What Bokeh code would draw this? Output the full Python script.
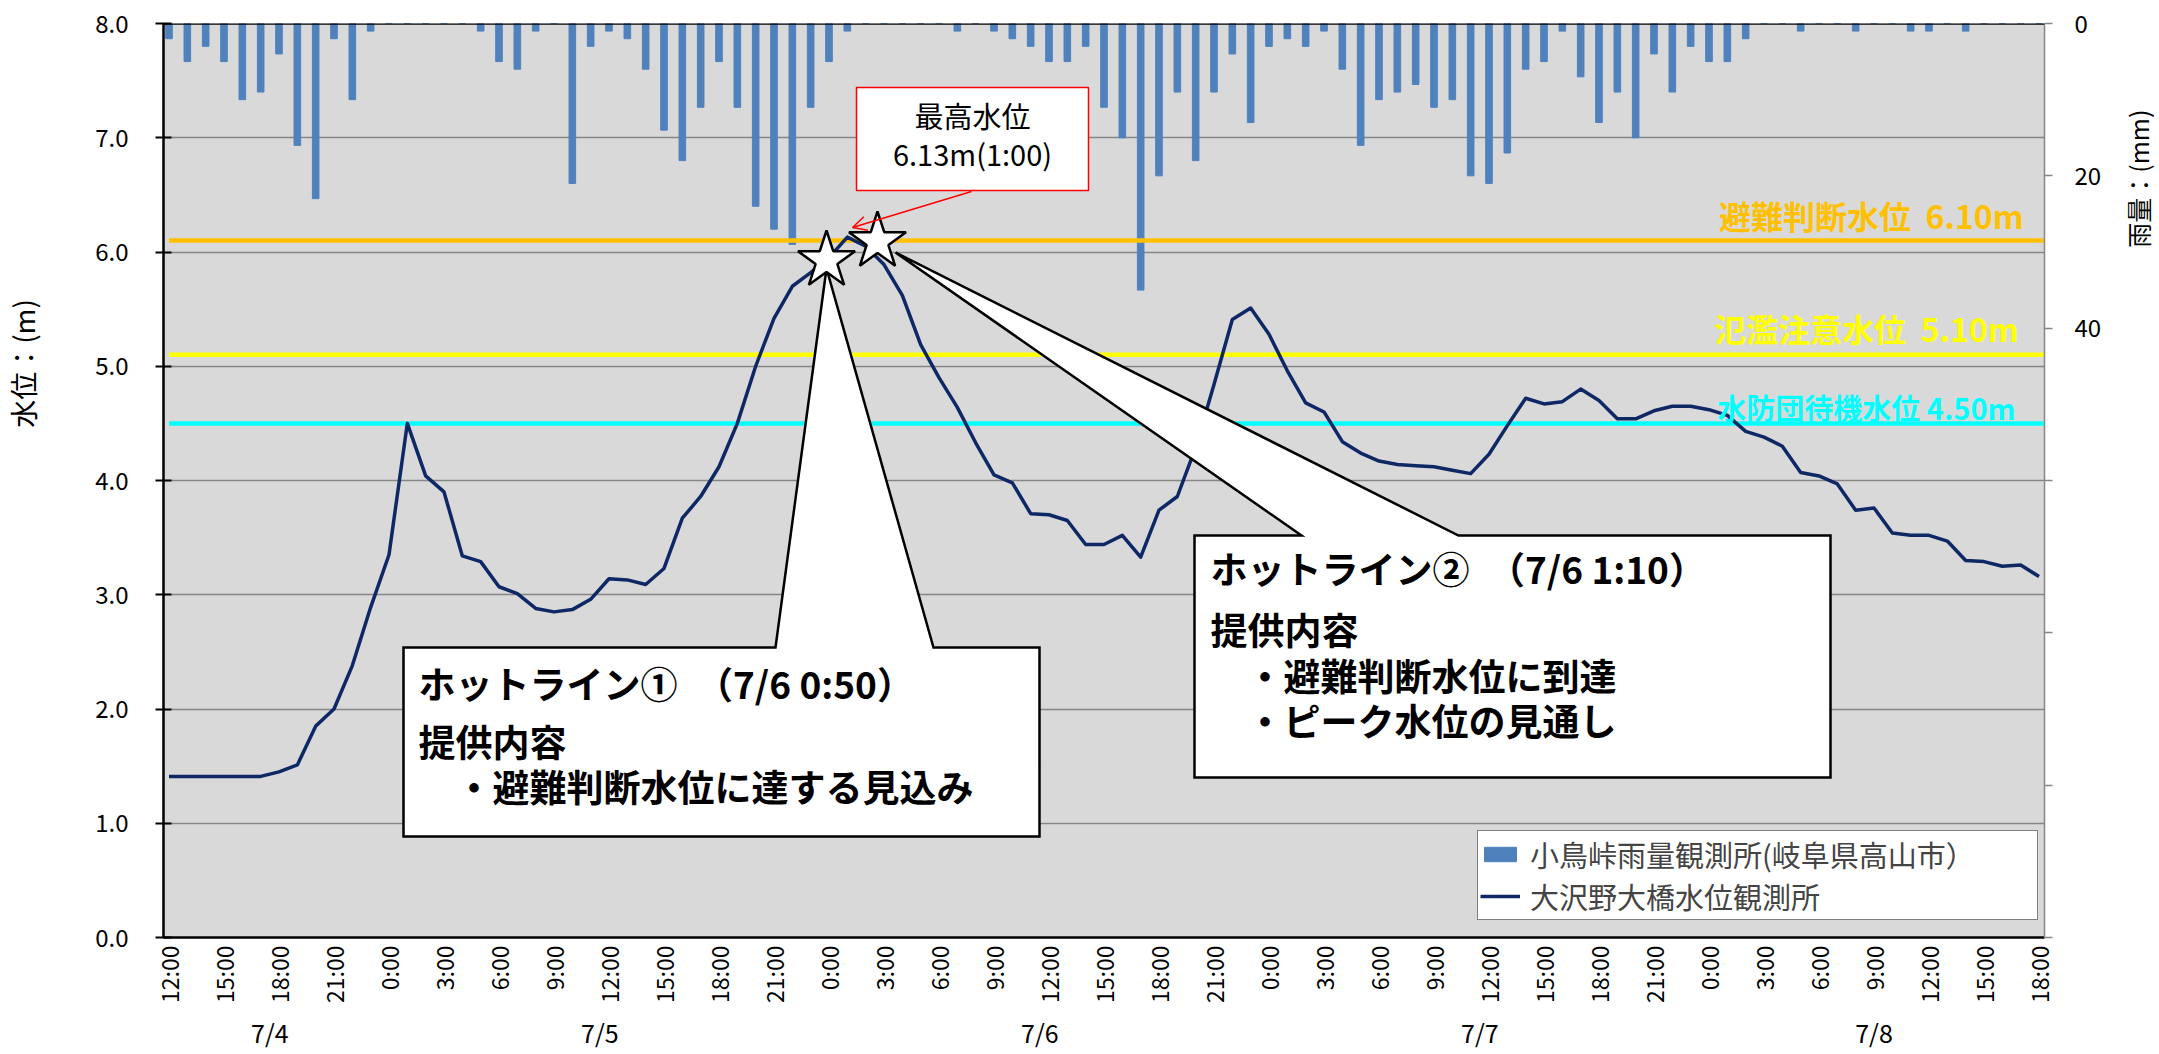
from math import pi
from bokeh.plotting import figure
from bokeh.layouts import row
from bokeh.models import (Range1d, LinearAxis, FixedTicker, PrintfTickFormatter, Span,
                          Label, Legend, LegendItem, Arrow, OpenHead)
from bokeh.embed import file_html
from bokeh.resources import INLINE

# ---------------- data ----------------
hours = list(range(103))  # hourly, 7/4 12:00 -> 7/8 18:00

time_tick_hours = [0, 3, 6, 9, 12, 15, 18, 21, 24, 27, 30, 33, 36, 39, 42, 45, 48, 51,
                   54, 57, 60, 63, 66, 69, 72, 75, 78, 81, 84, 87, 90, 93, 96, 99, 102]
time_tick_labels = ["12:00", "15:00", "18:00", "21:00", "0:00", "3:00", "6:00", "9:00",
                    "12:00", "15:00", "18:00", "21:00", "0:00", "3:00", "6:00", "9:00",
                    "12:00", "15:00", "18:00", "21:00", "0:00", "3:00", "6:00", "9:00",
                    "12:00", "15:00", "18:00", "21:00", "0:00", "3:00", "6:00", "9:00",
                    "12:00", "15:00", "18:00"]

date_labels = ["7/4", "7/5", "7/6", "7/7", "7/8"]
date_group_first = [0, 12, 36, 60, 84]
date_group_last = [11, 35, 59, 83, 102]

rain_mm = [2, 5, 3, 5, 10, 9, 4, 16, 23, 2, 10, 1,
           0, 0, 0, 0, 0,
           1, 5, 6, 1, 0, 21, 3, 1, 2, 6, 14, 18, 11, 5, 11, 24, 27, 29, 11, 5, 1,
           0, 0, 0, 0, 0,
           1, 0, 1, 2, 3, 5, 5, 3, 11, 15, 35, 20, 9, 18, 9, 4, 13, 3, 2, 3, 1, 6, 16,
           10, 9, 8, 11, 10, 20, 21, 17, 6, 5, 1, 7, 13, 9, 15, 4, 9, 3, 5, 5, 2,
           0, 0, 1, 0, 0, 1, 0, 0, 1, 1, 0, 1, 0, 0, 0, 0]

water_level_m = [1.41, 1.41, 1.41, 1.41, 1.41, 1.41, 1.45, 1.51, 1.85, 2.00, 2.38, 2.89,
                 3.35, 4.50, 4.04, 3.90, 3.34, 3.29, 3.07, 3.01, 2.88, 2.85, 2.87, 2.96,
                 3.14, 3.13, 3.09, 3.23, 3.67, 3.86, 4.12, 4.50, 5.00, 5.42, 5.70, 5.82,
                 5.95, 6.13, 6.05, 5.89, 5.62, 5.19, 4.90, 4.64, 4.33, 4.05, 3.98, 3.71,
                 3.70, 3.65, 3.44, 3.44, 3.52, 3.33, 3.74, 3.86, 4.29, 4.84, 5.41, 5.51,
                 5.28, 4.96, 4.68, 4.60, 4.34, 4.24, 4.17, 4.14, 4.13, 4.12, 4.09, 4.06,
                 4.23, 4.48, 4.72, 4.67, 4.69, 4.80, 4.70, 4.54, 4.54, 4.61, 4.65, 4.65,
                 4.62, 4.57, 4.43, 4.38, 4.30, 4.07, 4.04, 3.97, 3.74, 3.76, 3.54, 3.52,
                 3.52, 3.47, 3.30, 3.29, 3.25, 3.26, 3.16]

threshold_levels = [6.10, 5.10, 4.50]
threshold_texts = ["避難判断水位\u00a0\u00a06.10m", "氾濫注意水位\u00a0\u00a05.10m", "水防団待機水位 4.50m"]
threshold_colors = ["#FFC000", "#FFFF00", "#00FFFF"]

rain_name = "小鳥峠雨量観測所(岐阜県高山市）"
level_name = "大沢野大橋水位観測所"
left_title = "水位：(m)"
right_title = "雨量：(mm)"

# ---------------- layout helpers ----------------
FONT = "Noto Sans CJK JP"
X_START, X_END = -0.3, 102.3
FL, FT, FW, FH = 163.0, 23.0, 1881.0, 914.0   # frame position on the page (px)
CANVAS_W, CANVAS_H = 2159, 1054
LEFT_W = 60                                   # strip holding the level axis title
SIDE_W = 50                                   # strip holding the rain axis title


def px2x(px):
    return X_START + (px - FL) / FW * (X_END - X_START)


def py2y(py):
    return 8.0 - (py - FT) / FH * 8.0


p = figure(frame_width=int(FW), frame_height=int(FH),
           min_border_left=int(FL) - LEFT_W,
           min_border_right=CANVAS_W - SIDE_W - int(FL) - int(FW),
           min_border_top=int(FT), min_border_bottom=CANVAS_H - int(FT) - int(FH),
           x_range=Range1d(X_START, X_END), y_range=Range1d(0, 8),
           output_backend="svg", toolbar_location=None)
p.extra_y_ranges = {"rain": Range1d(120, 0)}
p.background_fill_color = "#D9D9D9"
p.border_fill_color = "white"
p.outline_line_color = None

# grid
p.xgrid.visible = False
p.ygrid.ticker = FixedTicker(ticks=[1, 2, 3, 4, 5, 6, 7])
p.ygrid.grid_line_color = "#868686"
p.ygrid.grid_line_width = 1.5

# left axis
ya = p.yaxis[0]
ya.ticker = FixedTicker(ticks=[0, 1, 2, 3, 4, 5, 6, 7, 8])
ya.formatter = PrintfTickFormatter(format="%.1f")
ya.axis_line_color = "black"
ya.axis_line_width = 2.5
ya.major_tick_in = 8
ya.major_tick_out = 8
ya.major_tick_line_width = 2
ya.minor_tick_line_color = None
ya.major_label_standoff = 27
ya.major_label_text_font = FONT
ya.major_label_text_font_size = "24px"
ya.major_label_text_color = "black"

# bottom time axis
xa = p.xaxis[0]
xa.ticker = FixedTicker(ticks=time_tick_hours)
xa.major_label_overrides = {h: t for h, t in zip(time_tick_hours, time_tick_labels)}
xa.major_label_orientation = pi / 2
xa.axis_line_color = "black"
xa.axis_line_width = 2.5
xa.major_tick_line_color = None
xa.minor_tick_line_color = None
xa.major_label_standoff = 2
xa.major_label_text_font = FONT
xa.major_label_text_font_size = "23px"
xa.major_label_text_color = "black"

# date axis
date_centers = [(a + b) / 2 for a, b in zip(date_group_first, date_group_last)]
da = LinearAxis(ticker=FixedTicker(ticks=date_centers),
                major_label_overrides={c: d for c, d in zip(date_centers, date_labels)},
                axis_line_color=None, major_tick_line_color=None, minor_tick_line_color=None,
                major_label_standoff=2, major_label_text_font=FONT,
                major_label_text_font_size="25px", major_label_text_color="black")
p.add_layout(da, "below")

# right axis (rain, reversed)
ra = LinearAxis(y_range_name="rain", ticker=FixedTicker(ticks=[0, 20, 40, 60, 80, 100, 120]),
                major_label_overrides={60: "", 80: "", 100: "", 120: ""},
                axis_line_color="#868686", axis_line_width=1.5,
                major_tick_line_color="#868686", major_tick_line_width=1.5,
                major_tick_in=0, major_tick_out=8, minor_tick_line_color=None,
                major_label_standoff=22, major_label_text_font=FONT,
                major_label_text_font_size="24px", major_label_text_color="black")
p.add_layout(ra, "right")

# top border
p.add_layout(Span(location=8, dimension="width", line_color="black", line_width=2.5))

# ---------------- data marks ----------------
bars = p.vbar(x=hours, top=0, bottom=rain_mm, width=0.36, y_range_name="rain",
              fill_color="#4F81BD", line_color="#4F81BD")

for lvl, col in zip(threshold_levels, threshold_colors):
    p.line([hours[0], hours[-1] + 0.25], [lvl, lvl], line_color=col, line_width=4.5)

wl = p.line(hours, water_level_m, line_color="#0E2765", line_width=3.5, line_join="round")

# threshold labels
thr_label_px = [(2023, 214), (2018, 327), (2015, 406)]
thr_font = ["32px", "32px", "29px"]
for (lx, ly), txt, col, fs in zip(thr_label_px, threshold_texts, threshold_colors, thr_font):
    p.add_layout(Label(x=px2x(lx), y=py2y(ly), text=txt, text_align="right",
                       text_baseline="middle", text_color=col, text_font=FONT,
                       text_font_size=fs, text_font_style="bold"))

# ---------------- callouts ----------------
def callout(box, base, tip):
    l, t, r, b = box
    bl, br = base
    xs = [l, bl, tip[0], br, r, r, l]
    ys = [t, t, tip[1], t, t, b, b]
    p.patch([px2x(v) for v in xs], [py2y(v) for v in ys], fill_color="white",
            line_color="black", line_width=2.5, line_join="miter")


callout((403, 647, 1039, 836), (775, 933), (826, 268))
callout((1194, 535, 1830, 777), (1301, 1458), (895, 252))

# stars (hotline markers)
p.scatter([px2x(826), px2x(877)], [py2y(260), py2y(241)], marker="star", size=60,
          fill_color="white", line_color="black", line_width=2.5)

# peak box
p.quad(left=px2x(856), right=px2x(1088), top=py2y(87), bottom=py2y(190),
       fill_color="white", line_color="#FF0000", line_width=1.5)
p.add_layout(Label(x=px2x(972), y=py2y(114), text="最高水位", text_align="center",
                   text_baseline="middle", text_font=FONT, text_font_size="29px",
                   text_color="black"))
p.add_layout(Label(x=px2x(972), y=py2y(152), text="%.2fm(1:00)" % max(water_level_m),
                   text_align="center", text_baseline="middle", text_font=FONT,
                   text_font_size="29px", text_color="black"))
p.add_layout(Arrow(end=OpenHead(size=14, line_color="#FF0000", line_width=1.5),
                   x_start=px2x(971), y_start=py2y(191), x_end=px2x(852), y_end=py2y(227),
                   line_color="#FF0000", line_width=1.5))

callout_texts = [
    (418, 682, "ホットライン①\u3000（7/6 0:50）"),
    (418, 740, "提供内容"),
    (455, 785, "・避難判断水位に達する見込み"),
    (1210, 567, "ホットライン②\u3000（7/6 1:10）"),
    (1210, 628, "提供内容"),
    (1246, 674, "・避難判断水位に到達"),
    (1246, 719, "・ピーク水位の見通し"),
]
for lx, ly, txt in callout_texts:
    p.add_layout(Label(x=px2x(lx), y=py2y(ly), text=txt, text_align="left",
                       text_baseline="middle", text_font=FONT, text_font_size="37px",
                       text_font_style="bold", text_color="black"))

# legend
legend = Legend(items=[LegendItem(label=rain_name, renderers=[bars]),
                       LegendItem(label=level_name, renderers=[wl])],
                location=(1314, 17), border_line_color="black", border_line_width=1.5,
                background_fill_color="white", background_fill_alpha=1.0,
                padding=2, spacing=0, margin=0,
                label_text_font=FONT, label_text_font_size="29px",
                label_height=30, glyph_height=18, glyph_width=40, label_standoff=10,
                label_width=505)
p.add_layout(legend, "center")


# ---------------- side strips holding the axis titles ----------------
def title_strip(x0, width, text, cx, cy, size):
    s = figure(width=width, height=CANVAS_H, min_border=0,
               x_range=Range1d(x0, x0 + width), y_range=Range1d(CANVAS_H, 0),
               output_backend="svg", toolbar_location=None)
    s.axis.visible = False
    s.grid.visible = False
    s.outline_line_color = None
    s.background_fill_color = "white"
    s.border_fill_color = "white"
    s.add_layout(Label(x=cx, y=cy, text=text, angle=pi / 2, text_align="center",
                       text_baseline="middle", text_font=FONT, text_font_size=size,
                       text_color="black"))
    return s


left_strip = title_strip(0, LEFT_W, left_title, 22, 392, "28px")
right_strip = title_strip(CANVAS_W - SIDE_W, SIDE_W, right_title, 2137, 179, "25px")

open("out.html", "w").write(file_html(row(left_strip, p, right_strip), INLINE))
